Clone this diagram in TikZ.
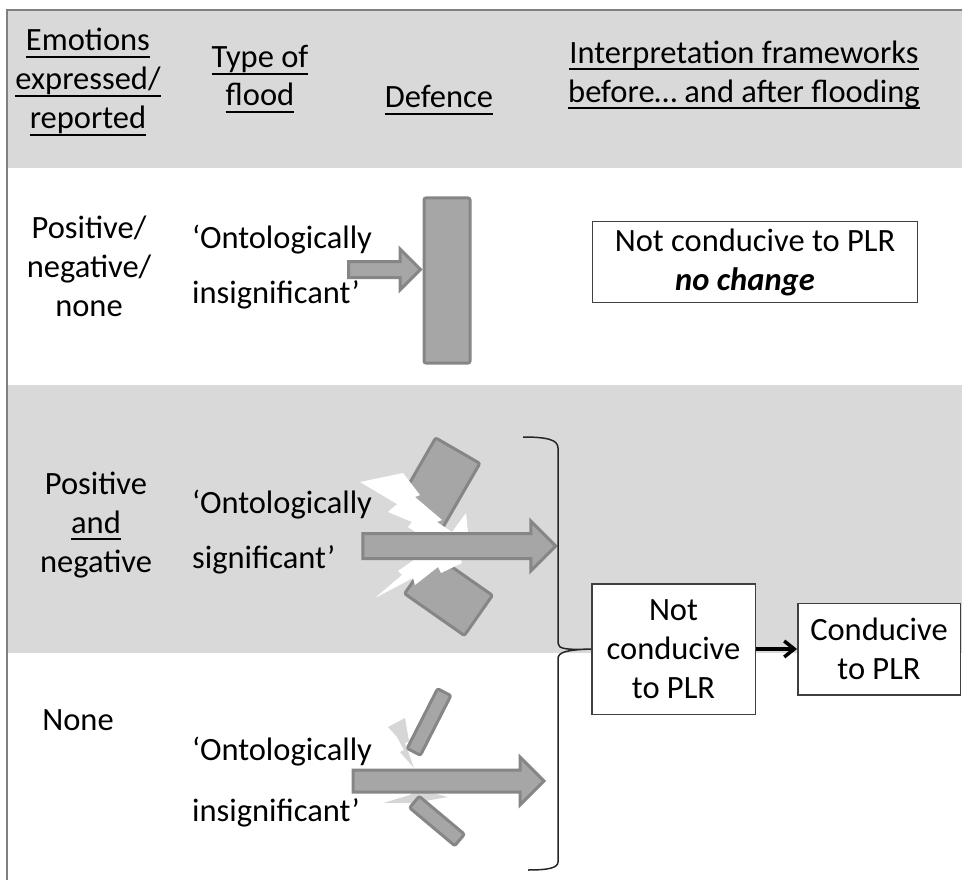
\documentclass[tikz,border=0pt]{standalone}
\usepackage{fontspec}
\setmainfont{Carlito}
\usetikzlibrary{positioning,shapes.arrows,arrows.meta}

\definecolor{bandgrey}{RGB}{217,217,217}
\definecolor{framegrey}{RGB}{128,128,128}
\definecolor{blockgrey}{RGB}{166,166,166}
\definecolor{blockedge}{RGB}{134,134,134}
\definecolor{boxedge}{RGB}{64,64,64}
\definecolor{faintbolt}{RGB}{214,214,214}

\newsavebox{\hdbox}
\newcommand{\hdul}[1]{\sbox{\hdbox}{#1}\rlap{\rule[-7pt]{\wd\hdbox}{2pt}}\usebox{\hdbox}}

\begin{document}
\begin{tikzpicture}[x=1pt,y=-1pt]
        \tikzstyle{every node}=[font=\fontsize{32.5}{39}\selectfont, inner sep=0pt]
        \tikzstyle{heading}=[align=center]
        \tikzstyle{floodtext}=[align=left, anchor=west]
        \tikzstyle{resultbox}=[rectangle, draw=boxedge, line width=1.5pt, fill=white, align=center]
        \tikzstyle{wall}=[rectangle, draw=blockedge, fill=blockgrey, line width=3pt, rounded corners=2pt]
        \tikzstyle{flow}=[single arrow, draw=blockedge, fill=blockgrey, line width=3pt, inner xsep=0pt]
        \tikzstyle{bolt}=[fill=white, draw=none]
        \useasboundingbox (0,0) rectangle (962,880);
        \clip (0,0) rectangle (962,880);

        % Bands
        \fill[bandgrey] (7,10) rectangle (970,168);
        \fill[bandgrey] (7,385) rectangle (970,653);
        \draw[framegrey, line width=2pt] (7,890) -- (7,10) -- (970,10);

        % Headings
        \node (emotions) [heading] at (88,82) {\hdul{Emotions}\\\hdul{expressed/}\\\hdul{reported}};
        \node (floodtype) [heading, font=\fontsize{32.5}{38}\selectfont] at (260,79) {\hdul{Type of}\\\hdul{flood}};
        \node (defence) [heading] at (439,100) {\hdul{Defence}};
        \node (frameworks) [heading] at (744,75) {\hdul{Interpretation frameworks}\\\hdul{before… and after flooding}};

        % Row 1
        \node (wallone) [wall, minimum width=46pt, minimum height=165pt] at (447,280.5) {};
        \node (flowone) [flow, minimum height=72pt, minimum width=38pt, inner ysep=6.5pt, single arrow head extend=12.5pt] at (380.5,269.5) {};
        \node (emoone) [heading] at (89,266) {Positive/\\negative/\\none};
        \node (floodone) [floodtext, font=\fontsize{32.5}{55}\selectfont] at (192,267) {‘Ontologically\\insignificant’};
        \node (nochange) [resultbox, minimum width=325pt, minimum height=81pt] at (755,262) {Not conducive to PLR\\\textbf{\textit{no change}}\hspace*{20pt}};

        % Row 2
        \node (walltwoa) [wall, minimum width=77pt, minimum height=51pt, rotate=60] at (438.5,484) {};
        \node (walltwob) [wall, minimum width=73pt, minimum height=49pt, rotate=-35] at (448.5,594.5) {};
        \fill[bolt] (360,482) -- (403,473) -- (420,495) -- (415,497) -- (442,520) -- (437,522) -- (452,532) -- (466,513) -- (468,533) -- (420,535) -- (408,527) -- (412,522) -- (388,512) -- (397,504) -- cycle;
        \fill[bolt] (418,557) -- (460,557) -- (462,563) -- (441,573) -- (438,567) -- (415,585) -- (413,578) -- (375,598) -- (402,575) -- (398,571) -- cycle;
        \node (flowtwo) [flow, minimum height=193pt, minimum width=47pt, inner ysep=11pt, single arrow head extend=12.5pt] at (453,546) {};
        \node (emotwo) [heading] at (96,525) {Positive\\\hdul{and}\\negative};
        \node (floodtwo) [floodtext, font=\fontsize{32.5}{55}\selectfont] at (192,532) {‘Ontologically\\significant’};

        % Row 3
        \fill[faintbolt] (388,727) -- (405,718) -- (409,741) -- (405,743) -- (414,768) -- (400,752) -- (404,750) -- (397,737) -- cycle;
        \fill[faintbolt] (383,803) -- (410,795) -- (418,789) -- (448,797) -- (425,801) -- (420,808) -- (412,803) -- cycle;
        \node (wallthreea) [wall, minimum width=67pt, minimum height=15pt, rotate=63] at (429,722) {};
        \node (wallthreeb) [wall, minimum width=59pt, minimum height=15pt, rotate=-40] at (437,821) {};
        \node (flowthree) [flow, minimum height=191pt, minimum width=45pt, inner ysep=9.5pt, single arrow head extend=13pt] at (443,781) {};
        \node (emothree) at (78,720) {None};
        \node (floodthree) [floodtext, font=\fontsize{32.5}{61}\selectfont] at (192,782) {‘Ontologically\\insignificant’};

        % Outcome
        \node (notcond) [resultbox, minimum width=163.5pt, minimum height=130.5pt] at (673.5,649) {Not\\conducive\\to PLR};
        \node (cond) [resultbox, minimum width=162.5pt, minimum height=91.5pt, right=41pt of notcond] {Conducive\\to PLR};
        \draw[-{Straight Barb[length=10pt,width=16pt]}, line width=3.5pt] (notcond) -- (cond);
        \draw[line width=1.5pt, black!85] (523,437) .. controls (548,437) and (558,440) .. (558,448) -- (558,643) .. controls (558,649) and (566,650) .. (notcond.west) .. controls (566,650) and (558,652) .. (558,659) -- (558,862) .. controls (558,868) and (548,870) .. (528,870);

\end{tikzpicture}
\end{document}
